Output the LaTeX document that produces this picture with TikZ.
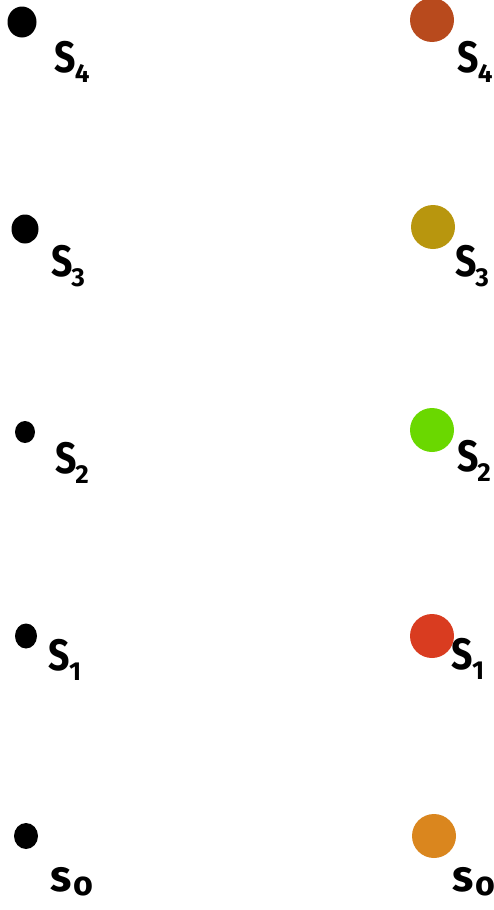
\documentclass[tikz,border=0pt]{standalone}
\usepackage{fontspec}
\setmainfont{Fira Sans}
\definecolor{cfour}{HTML}{B84A1D}
\definecolor{cthree}{HTML}{B8960E}
\definecolor{ctwo}{HTML}{6AD800}
\definecolor{cone}{HTML}{D93C20}
\definecolor{czero}{HTML}{DA861E}
\tikzset{
  blackdot/.style={ellipse, fill=black, inner sep=0pt},
  cdot/.style={circle, inner sep=0pt, minimum size=44pt},
  lbl/.style={inner sep=0pt, font=\fontsize{44}{44}\selectfont\bfseries},
}
\newcommand{\slab}[2]{\scalebox{0.85}[1]{#1}\kern-1pt\raisebox{-10pt}{\fontsize{26}{26}\selectfont #2}}
\newcommand{\solab}{\raisebox{-2pt}{s}\kern1pt\raisebox{-6pt}{\fontsize{34}{34}\selectfont o}}
\usetikzlibrary{shapes.geometric}
\begin{document}
\begin{tikzpicture}[x=1pt,y=-1pt]
\useasboundingbox (0,0) rectangle (494,910);
% left column
\node[blackdot, minimum width=29pt, minimum height=31pt] (a4) at (22,22) {};
\node[blackdot, minimum width=27pt, minimum height=29pt] (a3) at (25,229) {};
\node[blackdot, minimum width=20pt, minimum height=22pt] (a2) at (25,432) {};
\node[blackdot, minimum width=22pt, minimum height=25pt] (a1) at (26,636) {};
\node[blackdot, minimum width=24pt, minimum height=26pt] (a0) at (26,836) {};
\node[lbl] (la4) at (72,62) {\slab{S}{4}};
\node[lbl] (la3) at (68,266) {\slab{S}{3}};
\node[lbl] (la2) at (72,463) {\slab{S}{2}};
\node[lbl] (la1) at (65,660) {\slab{S}{1}};
\node[lbl] (la0) at (72,882) {\solab};
% right column
\node[cdot, fill=cfour] (b4) at (432,20) {};
\node[cdot, fill=cthree] (b3) at (433,227) {};
\node[cdot, fill=ctwo] (b2) at (432,430) {};
\node[cdot, fill=cone] (b1) at (432,636) {};
\node[cdot, fill=czero] (b0) at (434,836) {};
\node[lbl] (lb4) at (475,62) {\slab{S}{4}};
\node[lbl] (lb3) at (472,266) {\slab{S}{3}};
\node[lbl] (lb2) at (474,461) {\slab{S}{2}};
\node[lbl] (lb1) at (468,659) {\slab{S}{1}};
\node[lbl] (lb0) at (474,882) {\solab};
\end{tikzpicture}
\end{document}
